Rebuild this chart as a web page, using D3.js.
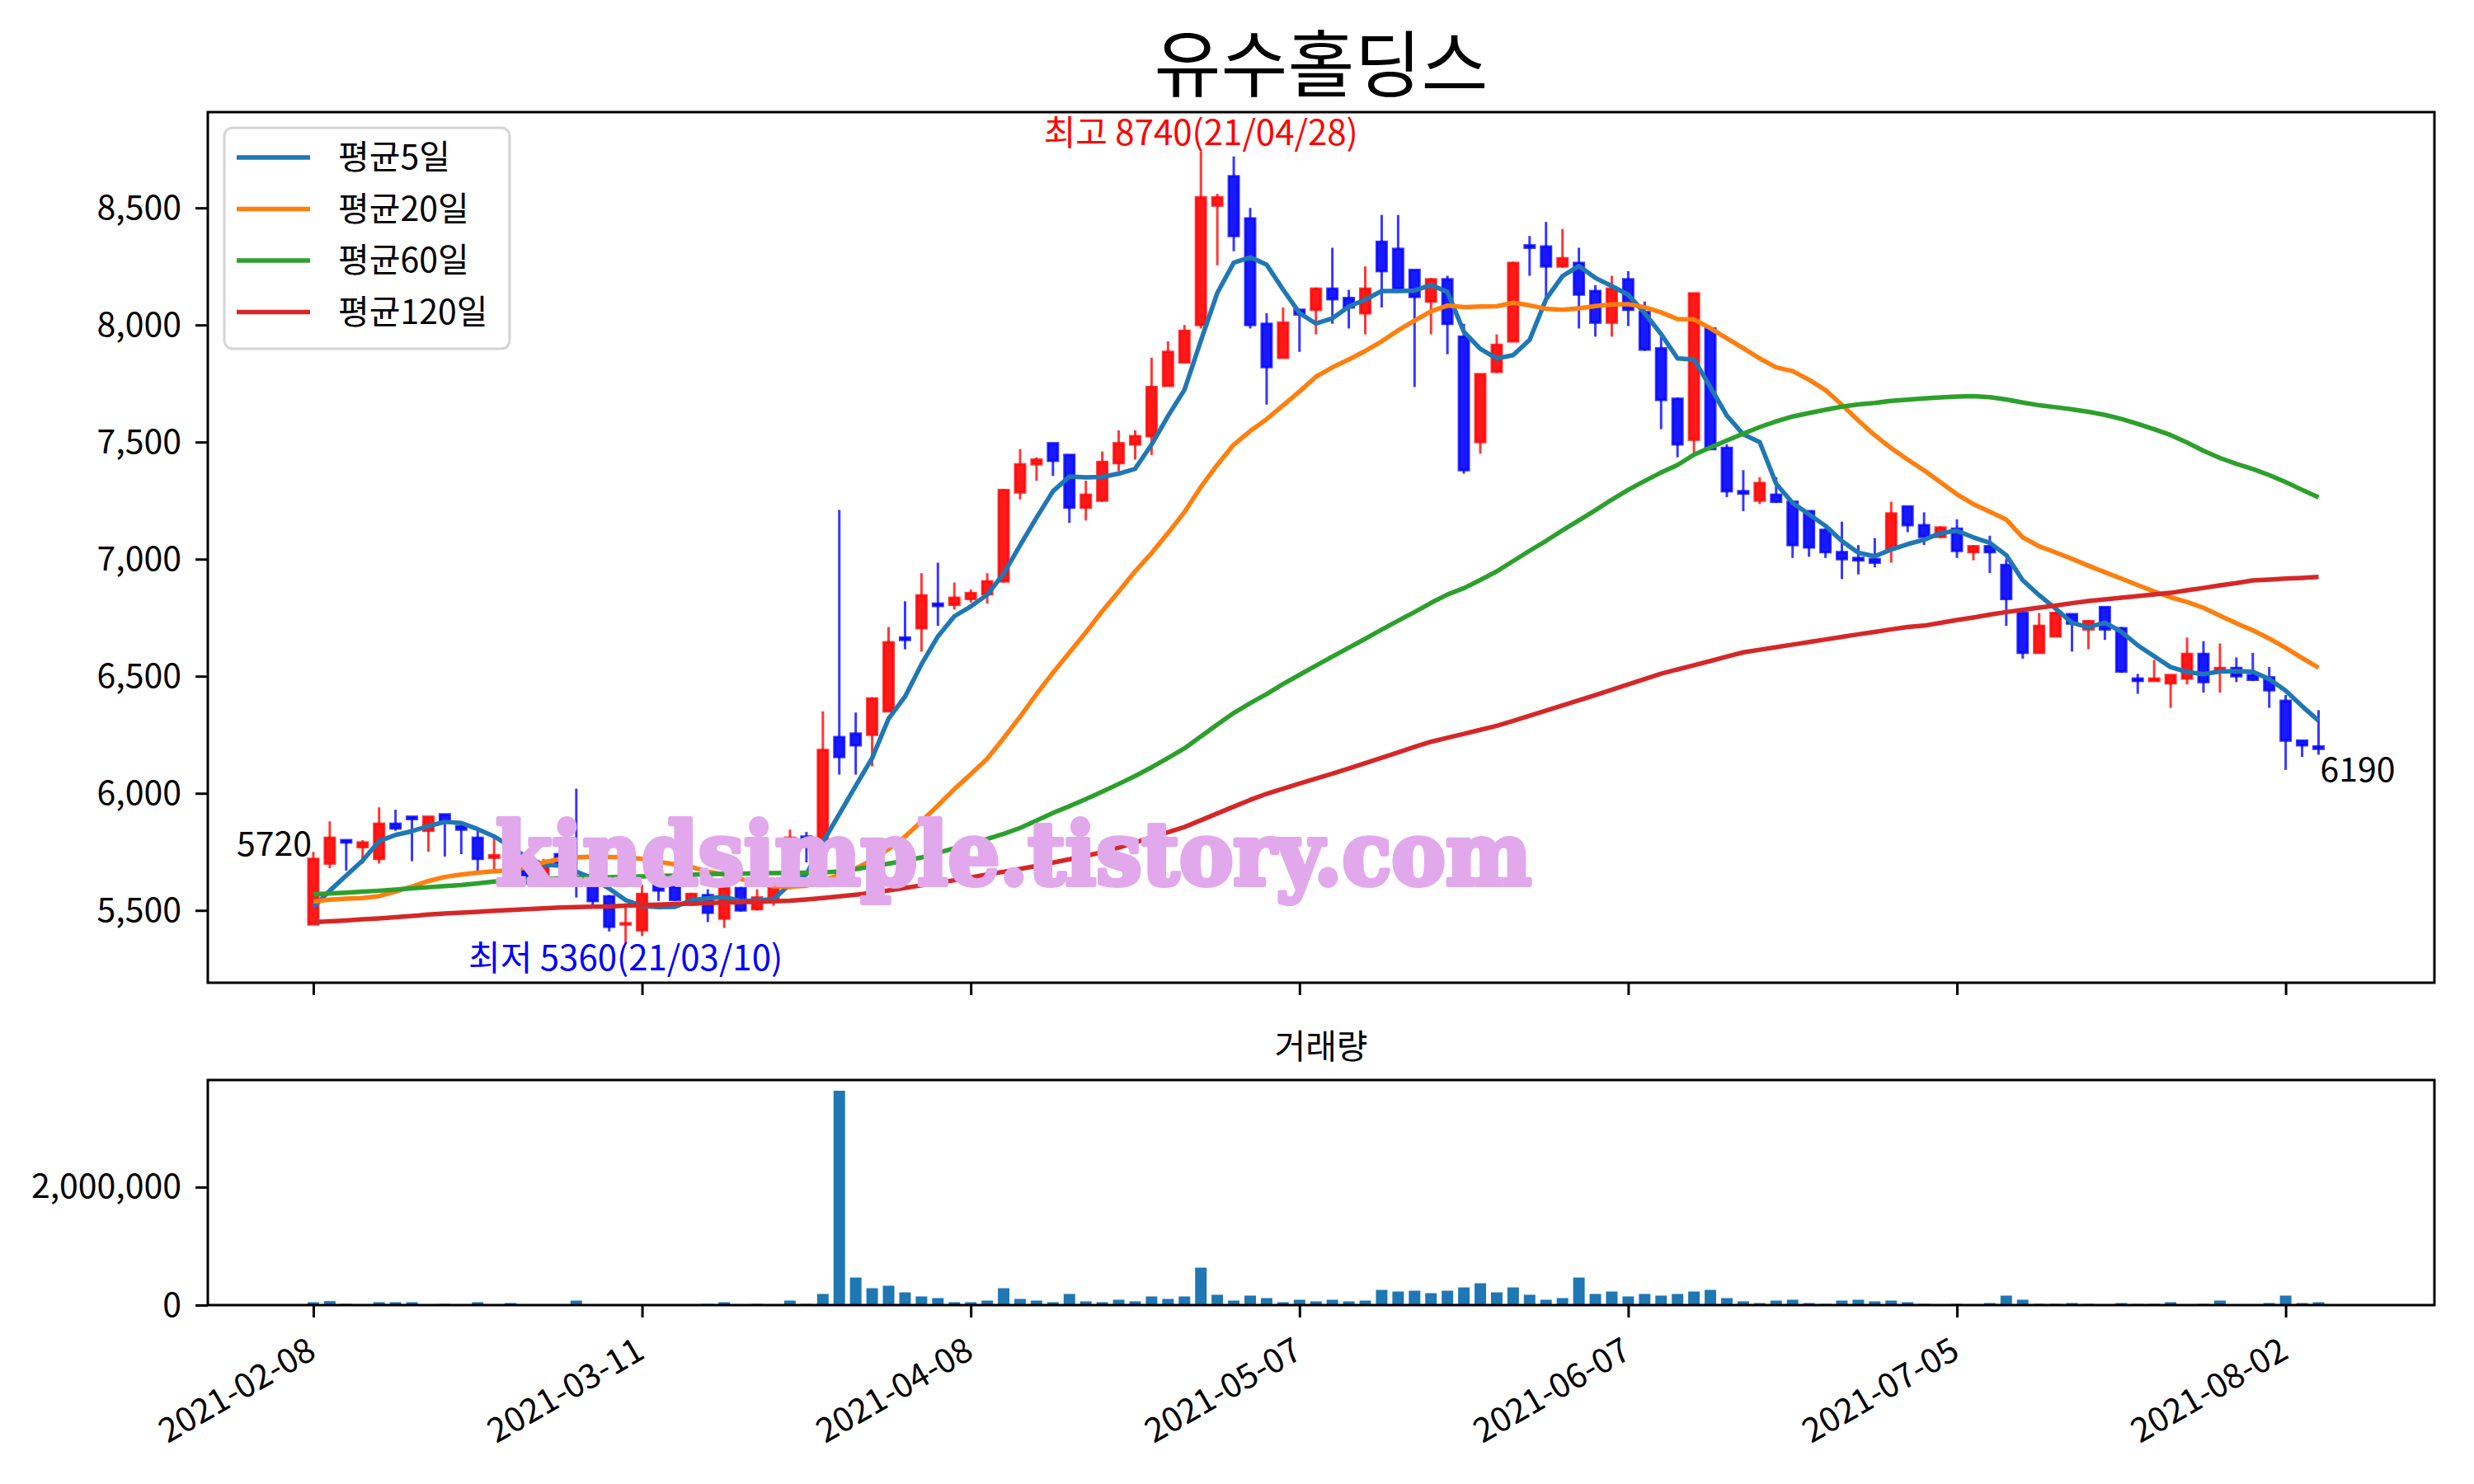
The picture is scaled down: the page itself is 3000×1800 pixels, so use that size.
<!DOCTYPE html>
<html><head><meta charset="utf-8">
<script src="https://cdn.jsdelivr.net/npm/d3@7"></script>
<style>
body{margin:0;background:#fff;}
text{font-family:"Noto Sans CJK KR","Noto Sans",sans-serif;}
</style>
</head><body>
<svg id="chart" width="3000" height="1800" xmlns="http://www.w3.org/2000/svg"></svg>
<script>
// ---------------- DATA ----------------
const chartTitle = "유수홀딩스";
const volumeTitle = "거래량";
const watermark = "kindsimple.tistory.com";
const tickIndex = [0, 20, 40, 60, 80, 100, 120];
const tickLabels = ["2021-02-08", "2021-03-11", "2021-04-08", "2021-05-07", "2021-06-07", "2021-07-05", "2021-08-02"];
const priceTicks = [5500, 6000, 6500, 7000, 7500, 8000, 8500];
const volumeTicks = [0, 2000000];
const maNames = ["평균5일", "평균20일", "평균60일", "평균120일"];

const openP = [5440,5700,5800,5770,5720,5870,5900,5840,5910,5860,
5810,5725,5720,5700,5650,5740,5620,5615,5560,5440,
5415,5640,5600,5525,5565,5465,5595,5505,5545,5600,
5815,5795,6240,6255,6250,6350,6665,6705,6810,6805,
6830,6850,6905,7285,7405,7495,7445,7220,7250,7410,
7490,7525,7740,7840,8000,8510,8635,8455,8005,7860,
8065,8065,8155,8115,8050,8355,8325,8235,8100,8195,
7950,7500,7800,7930,8340,8335,8250,8265,8145,8010,
8195,8055,7900,7685,7510,7985,7475,7290,7250,7275,
7245,7205,7125,7030,7005,7000,7045,7225,7145,7095,
7130,7030,7055,6975,6770,6600,6670,6765,6700,6795,
6705,6490,6480,6470,6490,6595,6525,6535,6505,6495,
6395,6225,6200];
const highP = [5750,5880,5800,5800,5940,5930,5900,5900,5910,5880,
5840,5820,5760,5720,5720,5740,6020,5690,5565,5530,
5610,5640,5605,5575,5590,5620,5600,5590,5640,5845,
5835,6350,7210,6345,6410,6710,6820,6940,6985,6900,
6870,6940,7300,7470,7435,7495,7445,7335,7460,7550,
7550,7860,7930,8000,8740,8560,8720,8500,8050,8075,
8065,8160,8330,8150,8250,8470,8470,8235,8200,8210,
8005,7790,7960,8270,8380,8440,8410,8330,8170,8210,
8230,8100,7950,7690,8135,7990,7490,7380,7350,7350,
7250,7205,7130,7160,7060,7090,7245,7225,7200,7140,
7170,7060,7100,7000,6790,6770,6775,6765,6740,6795,
6710,6510,6570,6505,6665,6650,6640,6580,6600,6540,
6420,6225,6355];
const lowP = [5440,5680,5670,5700,5700,5840,5710,5750,5730,5740,
5670,5670,5600,5610,5630,5670,5555,5525,5410,5360,
5390,5540,5540,5520,5450,5425,5495,5500,5520,5590,
5705,5780,6080,6080,6115,6350,6615,6605,6715,6785,
6815,6810,6900,7255,7335,7355,7155,7165,7245,7375,
7425,7445,7740,7840,7985,8255,8315,7985,7660,7860,
7885,7960,8005,7985,7960,8075,8150,7735,7960,7875,
7365,7450,7795,7930,8210,8105,8245,7985,7950,7950,
7995,7890,7555,7435,7455,7465,7265,7205,7235,7240,
7005,7010,7005,6915,6935,6965,6985,7115,7060,7090,
7005,6995,6940,6715,6575,6600,6670,6605,6615,6655,
6515,6425,6480,6365,6465,6430,6430,6475,6480,6365,
6100,6155,6165];
const closeP = [5720,5810,5790,5790,5870,5850,5890,5900,5880,5845,
5720,5735,5680,5650,5690,5700,5605,5540,5430,5445,
5570,5585,5545,5570,5490,5595,5500,5555,5600,5810,
5805,6185,6155,6205,6405,6645,6655,6845,6800,6835,
6855,6905,7295,7405,7425,7420,7220,7275,7415,7495,
7525,7735,7885,7975,8545,8545,8380,8000,7820,8010,
8045,8155,8110,8075,8155,8230,8155,8120,8195,8005,
7380,7790,7915,8265,8330,8250,8285,8130,8010,8155,
8065,7895,7680,7490,8135,7470,7290,7280,7325,7245,
7060,7050,7030,7000,6995,6985,7195,7145,7095,7135,
7035,7055,7030,6830,6600,6715,6770,6725,6735,6700,
6520,6480,6490,6505,6595,6475,6535,6500,6485,6440,
6225,6205,6190];
const volume = [49000,68000,21000,5000,49000,49000,49000,5000,21000,5000,
49000,5000,35000,5000,5000,5000,77000,3000,3000,3000,
3000,3000,3000,3000,21000,49000,3000,21000,3000,77000,
21000,189000,3633000,467000,286000,328000,216000,147000,119000,49000,
49000,77000,286000,105000,77000,49000,189000,63000,49000,91000,
63000,147000,105000,147000,635000,175000,77000,161000,119000,49000,
91000,63000,91000,63000,77000,258000,230000,244000,202000,244000,
300000,370000,216000,300000,175000,91000,119000,467000,189000,230000,
147000,189000,161000,189000,230000,258000,119000,63000,35000,77000,
91000,35000,21000,77000,91000,63000,77000,49000,21000,5000,
21000,5000,35000,161000,91000,21000,21000,35000,21000,5000,
35000,21000,21000,49000,5000,21000,77000,5000,5000,35000,
161000,35000,49000];
const ma5 = [5515,5584,5649,5713,5796,5822,5838,5860,5878,5873,
5847,5816,5772,5726,5695,5691,5665,5637,5593,5544,
5518,5514,5515,5543,5552,5557,5540,5542,5548,5612,
5654,5791,5911,6032,6151,6319,6413,6551,6670,6756,
6798,6848,6938,7059,7177,7290,7353,7349,7351,7365,
7386,7489,7611,7723,7933,8137,8266,8289,8258,8151,
8051,8006,8028,8079,8108,8145,8145,8147,8171,8141,
7971,7898,7857,7871,7936,8110,8209,8252,8201,8166,
8129,8051,7961,7857,7853,7734,7613,7533,7500,7322,
7240,7192,7142,7077,7027,7012,7041,7064,7083,7111,
7121,7093,7070,7017,6910,6846,6789,6728,6709,6729,
6690,6632,6585,6539,6518,6509,6520,6522,6519,6488,
6438,6372,6310];
const ma20 = [5538,5546,5550,5553,5561,5581,5602,5625,5643,5653,
5661,5667,5672,5684,5705,5719,5726,5730,5728,5727,
5720,5708,5696,5685,5666,5653,5634,5617,5603,5601,
5605,5628,5651,5679,5715,5762,5815,5880,5948,6018,
6082,6148,6236,6327,6424,6515,6601,6687,6778,6862,
6948,7026,7112,7201,7308,7403,7489,7547,7598,7657,
7716,7779,7819,7853,7889,7930,7977,8019,8058,8083,
8076,8079,8080,8095,8084,8069,8065,8071,8081,8088,
8089,8076,8054,8025,8024,7986,7943,7901,7857,7819,
7803,7766,7722,7659,7592,7529,7474,7425,7379,7328,
7277,7235,7202,7169,7093,7055,7029,7001,6972,6944,
6917,6889,6862,6837,6817,6792,6759,6726,6696,6661,
6621,6578,6536];
const ma60 = [5569,5572,5576,5580,5584,5589,5594,5599,5604,5608,
5615,5623,5627,5631,5634,5637,5639,5641,5642,5643,
5645,5647,5649,5652,5655,5656,5657,5658,5659,5660,
5661,5662,5666,5676,5688,5700,5712,5726,5746,5765,
5785,5805,5827,5852,5884,5916,5945,5975,6007,6040,
6074,6111,6151,6192,6243,6294,6343,6385,6424,6467,
6506,6545,6584,6622,6660,6699,6737,6774,6813,6849,
6876,6911,6948,6992,7036,7078,7123,7166,7209,7254,
7296,7334,7370,7402,7446,7477,7507,7536,7564,7588,
7609,7624,7638,7651,7661,7667,7676,7681,7686,7691,
7694,7696,7692,7682,7669,7657,7649,7640,7629,7616,
7599,7578,7555,7530,7498,7463,7432,7407,7385,7359,
7329,7296,7264];
const ma120 = [5450,5453,5457,5462,5466,5471,5476,5482,5487,5490,
5494,5498,5502,5505,5509,5512,5514,5516,5517,5520,
5523,5525,5527,5529,5532,5533,5535,5537,5539,5541,
5547,5553,5560,5567,5575,5585,5596,5607,5618,5629,
5641,5653,5665,5677,5690,5704,5718,5733,5748,5768,
5790,5812,5834,5856,5885,5914,5943,5972,5998,6020,
6042,6063,6084,6106,6129,6152,6175,6198,6220,6237,
6254,6271,6288,6309,6331,6353,6375,6397,6419,6442,
6465,6488,6511,6529,6547,6565,6584,6602,6613,6624,
6635,6646,6657,6668,6679,6689,6700,6710,6716,6728,
6740,6751,6763,6774,6783,6793,6802,6812,6821,6828,
6835,6842,6849,6856,6867,6877,6888,6898,6909,6913,
6917,6920,6924];
const highLabel = "최고 8740(21/04/28)";
const lowLabel = "최저 5360(21/03/10)";
const highIdx = 54, lowIdx = 19;

// ---------------- LAYOUT ----------------
const W = 3000, H = 1800;
const L = 252, R = 2952;
const mainTop = 136, mainBot = 1192;
const volTop = 1310, volBot = 1583;
const FS = 41;

const svg = d3.select("#chart");
svg.append("rect").attr("width", W).attr("height", H).attr("fill", "#fff");

const n = closeP.length;
const idx = d3.range(n);
const x = d3.scaleLinear().domain([-6.42, 129.05]).range([L, R]);
const y = d3.scaleLinear().domain([5191, 8909]).range([mainBot, mainTop]);
const yv = d3.scaleLinear().domain([0, d3.max(volume) * 1.05]).range([volBot, volTop]);

const defs = svg.append("defs");
defs.append("clipPath").attr("id", "clipMain").append("rect")
  .attr("x", L).attr("y", mainTop).attr("width", R - L).attr("height", mainBot - mainTop);
defs.append("clipPath").attr("id", "clipVol").append("rect")
  .attr("x", L).attr("y", volTop).attr("width", R - L).attr("height", volBot - volTop);

// title
svg.append("text").attr("x", (L + R) / 2).attr("y", 110).attr("text-anchor", "middle")
  .attr("font-size", 88).attr("fill", "#000").text(chartTitle);

// ----- candles -----
const gMain = svg.append("g").attr("clip-path", "url(#clipMain)");
const upCol = "rgba(255,0,0,0.78)", dnCol = "rgba(0,0,255,0.78)";
const upFill = "rgba(255,0,0,0.9)", dnFill = "rgba(0,0,255,0.9)";
const bodyW = 12;
idx.forEach(i => {
  const up = closeP[i] >= openP[i];
  const top = Math.max(openP[i], closeP[i]), bot = Math.min(openP[i], closeP[i]);
  const col = up ? upCol : dnCol;
  gMain.append("line").attr("x1", x(i)).attr("x2", x(i))
    .attr("y1", y(highP[i])).attr("y2", y(top)).attr("stroke", col).attr("stroke-width", 3);
  gMain.append("line").attr("x1", x(i)).attr("x2", x(i))
    .attr("y1", y(bot)).attr("y2", y(lowP[i])).attr("stroke", col).attr("stroke-width", 3);
  gMain.append("rect").attr("x", x(i) - bodyW / 2).attr("width", bodyW)
    .attr("y", y(top)).attr("height", Math.max(0.5, y(bot) - y(top)))
    .attr("fill", up ? upFill : dnFill).attr("stroke", col).attr("stroke-width", 3);
});

// ----- moving averages -----
const maSeries = [ma5, ma20, ma60, ma120];
const maColors = ["#1f77b4", "#ff7f0e", "#2ca02c", "#d62728"];
const line = d3.line().x((d, i) => x(i)).y(d => y(d));
maSeries.forEach((s, k) => {
  gMain.append("path").datum(s).attr("d", line).attr("fill", "none")
    .attr("stroke", maColors[k]).attr("stroke-width", 5.5).attr("stroke-linejoin", "round");
});

// ----- annotations -----
svg.append("text").attr("x", x(highIdx)).attr("y", y(highP[highIdx]) - 8)
  .attr("text-anchor", "middle").attr("font-size", 42).attr("fill", "#ff0000").text(highLabel);
svg.append("text").attr("x", x(lowIdx)).attr("y", y(lowP[lowIdx]) + 33)
  .attr("text-anchor", "middle").attr("font-size", 42).attr("fill", "#0000ff").text(lowLabel);
svg.append("text").attr("x", x(0) - 2).attr("y", y(closeP[0]) - 4)
  .attr("text-anchor", "end").attr("font-size", FS).attr("fill", "#000").text(String(closeP[0]));
svg.append("text").attr("x", x(n - 1) + 2).attr("y", y(closeP[n - 1]) + 40)
  .attr("text-anchor", "start").attr("font-size", FS).attr("fill", "#000").text(String(closeP[n - 1]));

// ----- watermark -----
svg.append("text").attr("x", 601).attr("y", 1073)
  .style("font-family", "'DejaVu Serif', 'Liberation Serif', serif").style("font-weight", "bold")
  .attr("font-size", 104).attr("fill", "#e2a8ec")
  .attr("stroke", "#e2a8ec").attr("stroke-width", 6).attr("stroke-linejoin", "round")
  .attr("textLength", 1256).attr("lengthAdjust", "spacingAndGlyphs").text(watermark);

// ----- legend -----
const lg = svg.append("g");
lg.append("rect").attr("x", 272).attr("y", 155).attr("width", 346).attr("height", 268)
  .attr("rx", 10).attr("fill", "rgba(255,255,255,0.8)").attr("stroke", "#d4d4d4").attr("stroke-width", 3);
maNames.forEach((nm, k) => {
  const ly = 191 + k * 62.5;
  lg.append("line").attr("x1", 287).attr("x2", 376).attr("y1", ly).attr("y2", ly)
    .attr("stroke", maColors[k]).attr("stroke-width", 5.5);
  lg.append("text").attr("x", 410).attr("y", ly + 14).attr("font-size", FS).attr("fill", "#000").text(nm);
});

// ----- volume -----
const gVol = svg.append("g").attr("clip-path", "url(#clipVol)");
gVol.selectAll("rect.vb").data(volume).join("rect").attr("class", "vb")
  .attr("x", (d, i) => x(i - 0.35)).attr("width", x(0.35) - x(-0.35))
  .attr("y", d => yv(d)).attr("height", d => volBot - yv(d)).attr("fill", "#1f77b4");

svg.append("text").attr("x", (L + R) / 2).attr("y", 1284).attr("text-anchor", "middle")
  .attr("font-size", FS).attr("fill", "#000").text(volumeTitle);

// ----- axes -----
function styleAxis(g) {
  g.select(".domain").remove();
  g.selectAll(".tick line").attr("stroke", "#000").attr("stroke-width", 3);
  g.selectAll(".tick text").attr("font-size", FS).attr("fill", "#000")
    .attr("font-family", "'Noto Sans CJK KR','Noto Sans',sans-serif");
}
const fmt = d3.format(",");
svg.append("g").attr("transform", `translate(${L},0)`)
  .call(d3.axisLeft(y).tickValues(priceTicks).tickFormat(fmt).tickSize(15).tickPadding(17))
  .call(styleAxis);
svg.append("g").attr("transform", `translate(0,${mainBot})`)
  .call(d3.axisBottom(x).tickValues(tickIndex).tickFormat("").tickSize(15))
  .call(styleAxis);
svg.append("g").attr("transform", `translate(${L},0)`)
  .call(d3.axisLeft(yv).tickValues(volumeTicks).tickFormat(fmt).tickSize(15).tickPadding(17))
  .call(styleAxis);
const xb = svg.append("g").attr("transform", `translate(0,${volBot})`)
  .call(d3.axisBottom(x).tickValues(tickIndex).tickFormat((d, i) => tickLabels[i]).tickSize(15))
  .call(styleAxis);
xb.selectAll(".tick text")
  .attr("text-anchor", "end").attr("x", 0).attr("y", 0).attr("dy", null)
  .attr("transform", "translate(-10,37) rotate(-30) translate(0,30)");

// spines
[[mainTop, mainBot], [volTop, volBot]].forEach(([t, b]) => {
  svg.append("rect").attr("x", L).attr("y", t).attr("width", R - L).attr("height", b - t)
    .attr("fill", "none").attr("stroke", "#000").attr("stroke-width", 3);
});
</script>
</body></html>
